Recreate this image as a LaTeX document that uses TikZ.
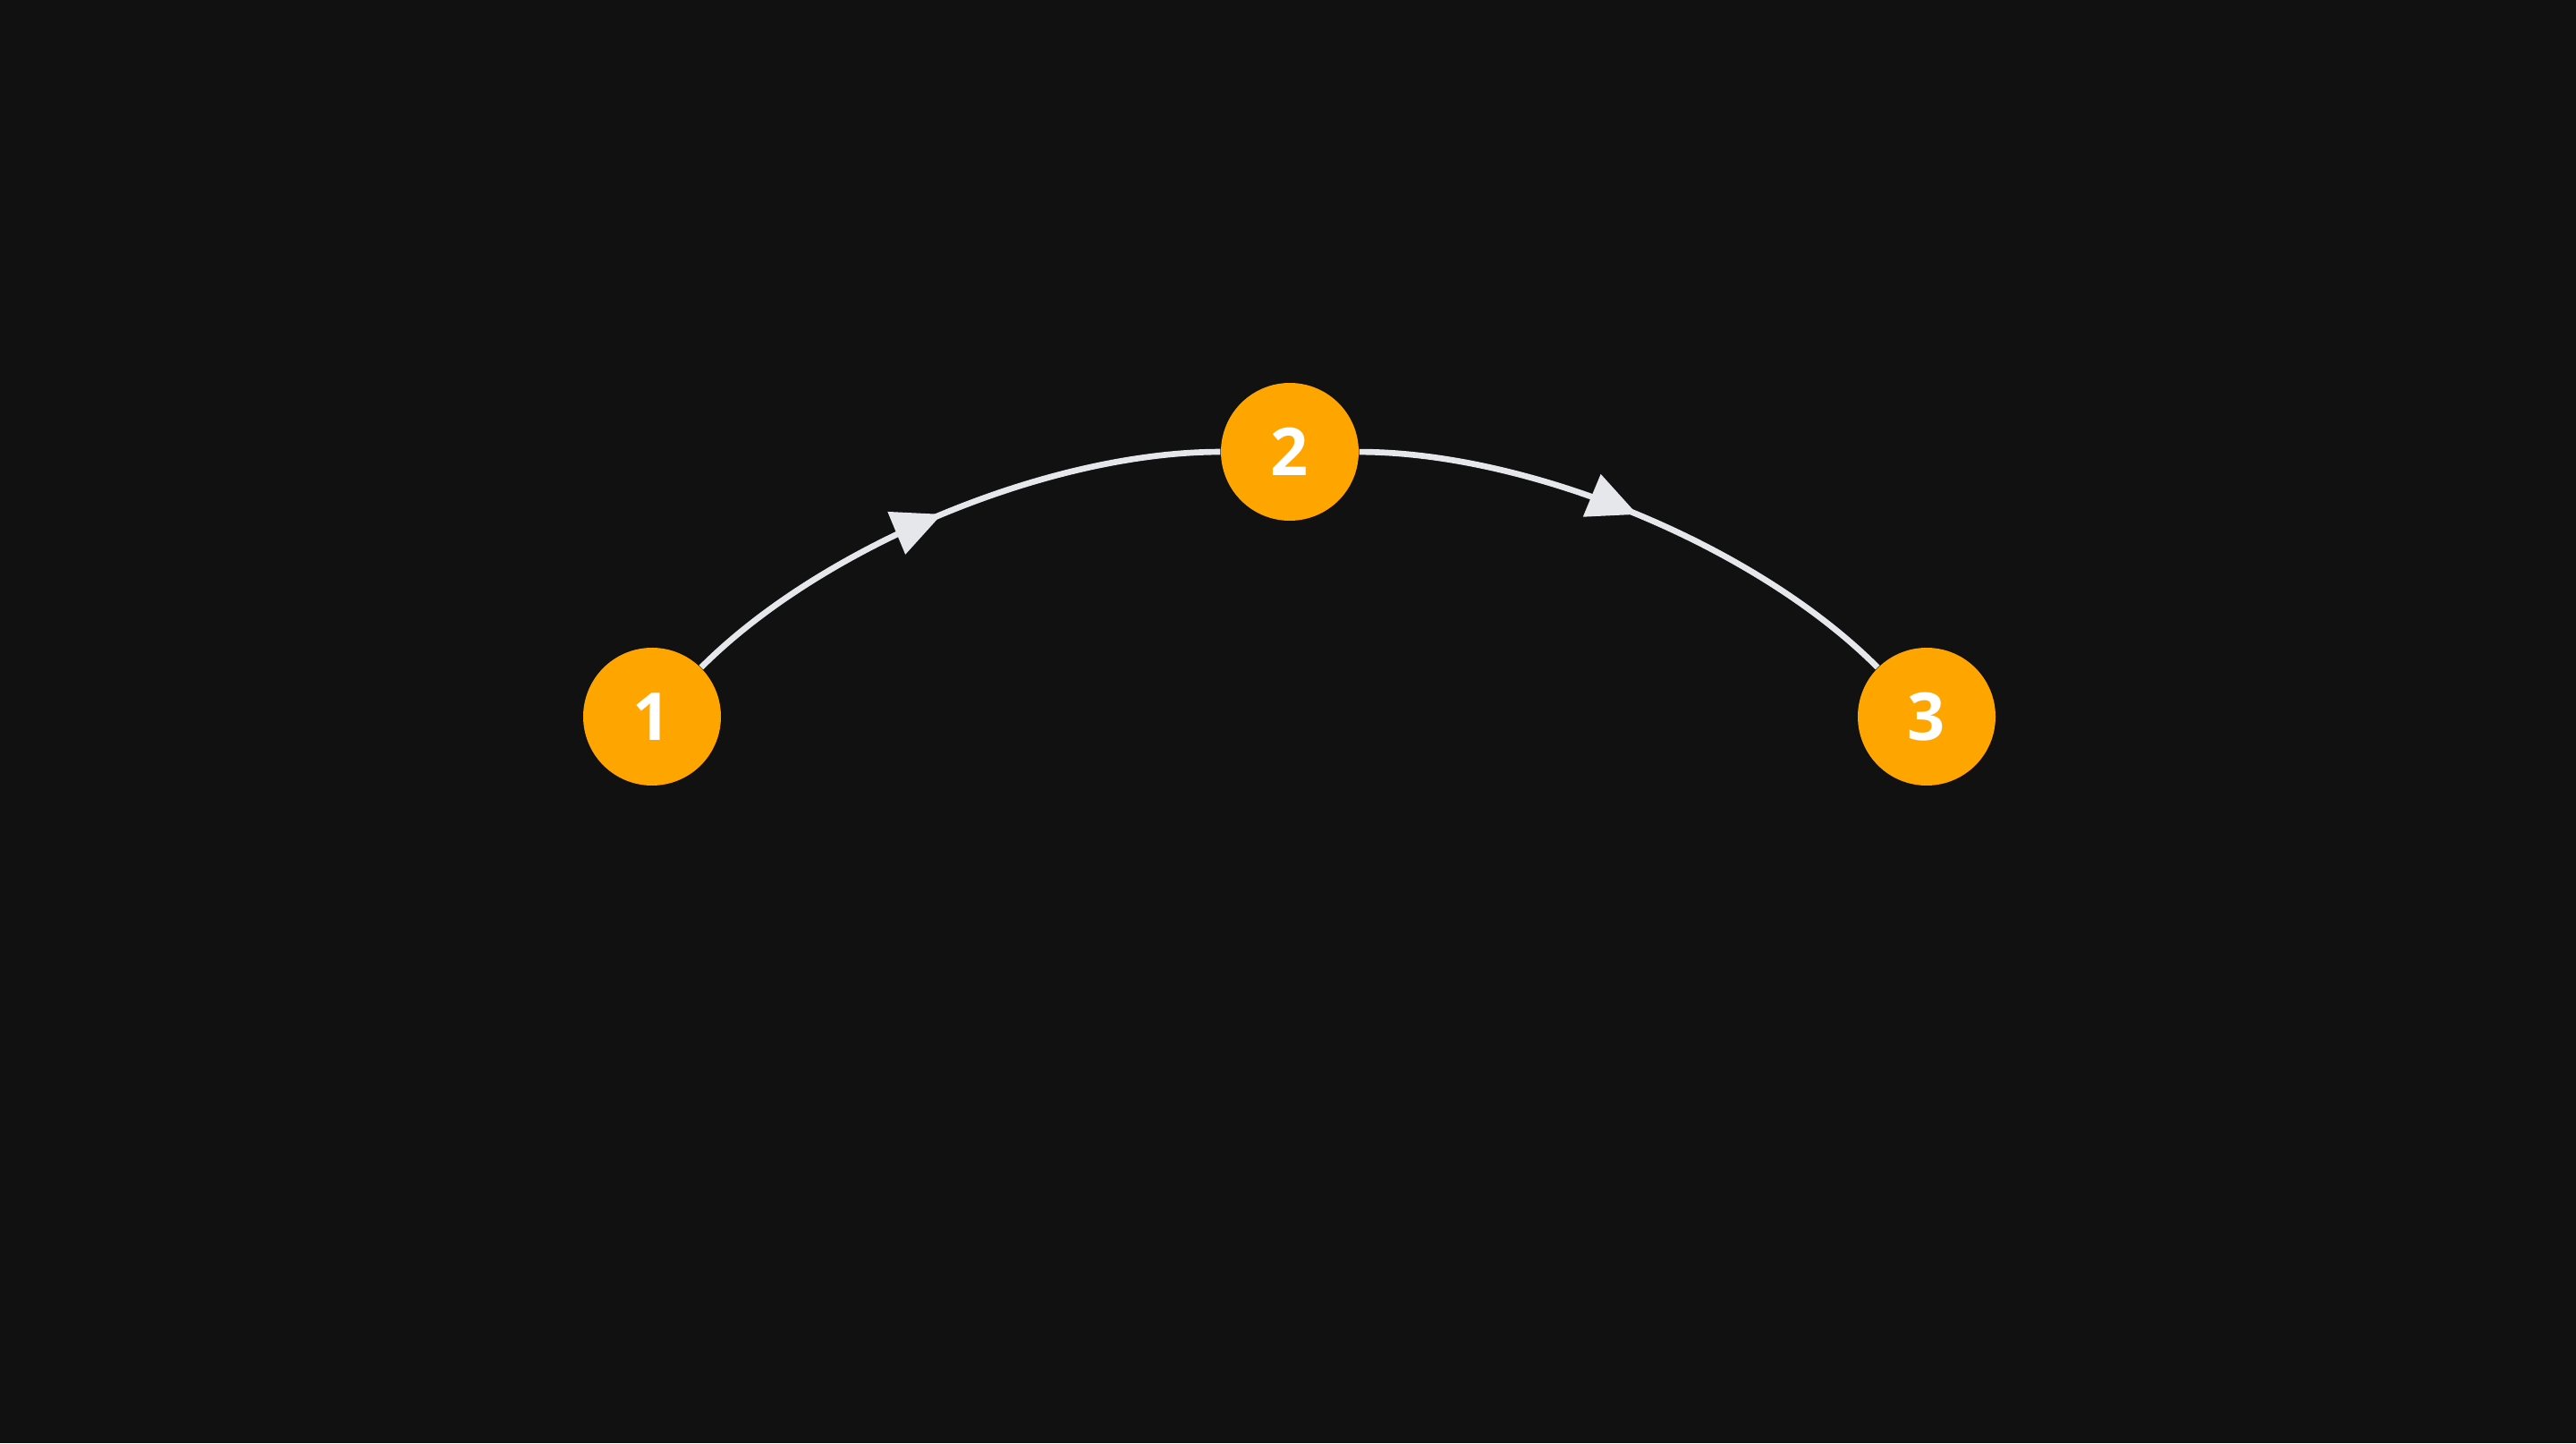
\documentclass[tikz,border=0pt]{standalone}
\usepackage{fontspec}
\setmainfont{Open Sans}
\usetikzlibrary{arrows.meta, positioning, decorations.markings}

\definecolor{canvas}{HTML}{111111}
\definecolor{stepfill}{HTML}{FFA500}
\definecolor{linkgray}{HTML}{E5E7EB}

\begin{document}
\begin{tikzpicture}[
    >=Stealth,
    stepnode/.style={circle, fill=stepfill, minimum size=1.54cm, inner sep=0pt, text=white, font=\fontsize{21}{25}\selectfont\bfseries},
    link/.style={draw=linkgray, line width=1.9pt, postaction={decorate},
        decoration={markings, mark=at position 0.5 with {\arrow[linkgray]{Triangle[length=0.55cm, width=0.5cm]}}}},
    ]

    % Background
    \fill[canvas] (0,0) rectangle (28.8,16.13);

    \node (S1) [stepnode] at (7.29,8.12) {1};
    \node (S2) [stepnode, on grid, above right=2.96cm and 7.13cm of S1] {2};
    \node (S3) [stepnode, on grid, below right=2.96cm and 7.12cm of S2] {3};

    \draw[link] (S1) to[bend left=22.5, looseness=0.78] (S2);
    \draw[link] (S2) to[bend left=22.5, looseness=0.78] (S3);
\end{tikzpicture}
\end{document}
